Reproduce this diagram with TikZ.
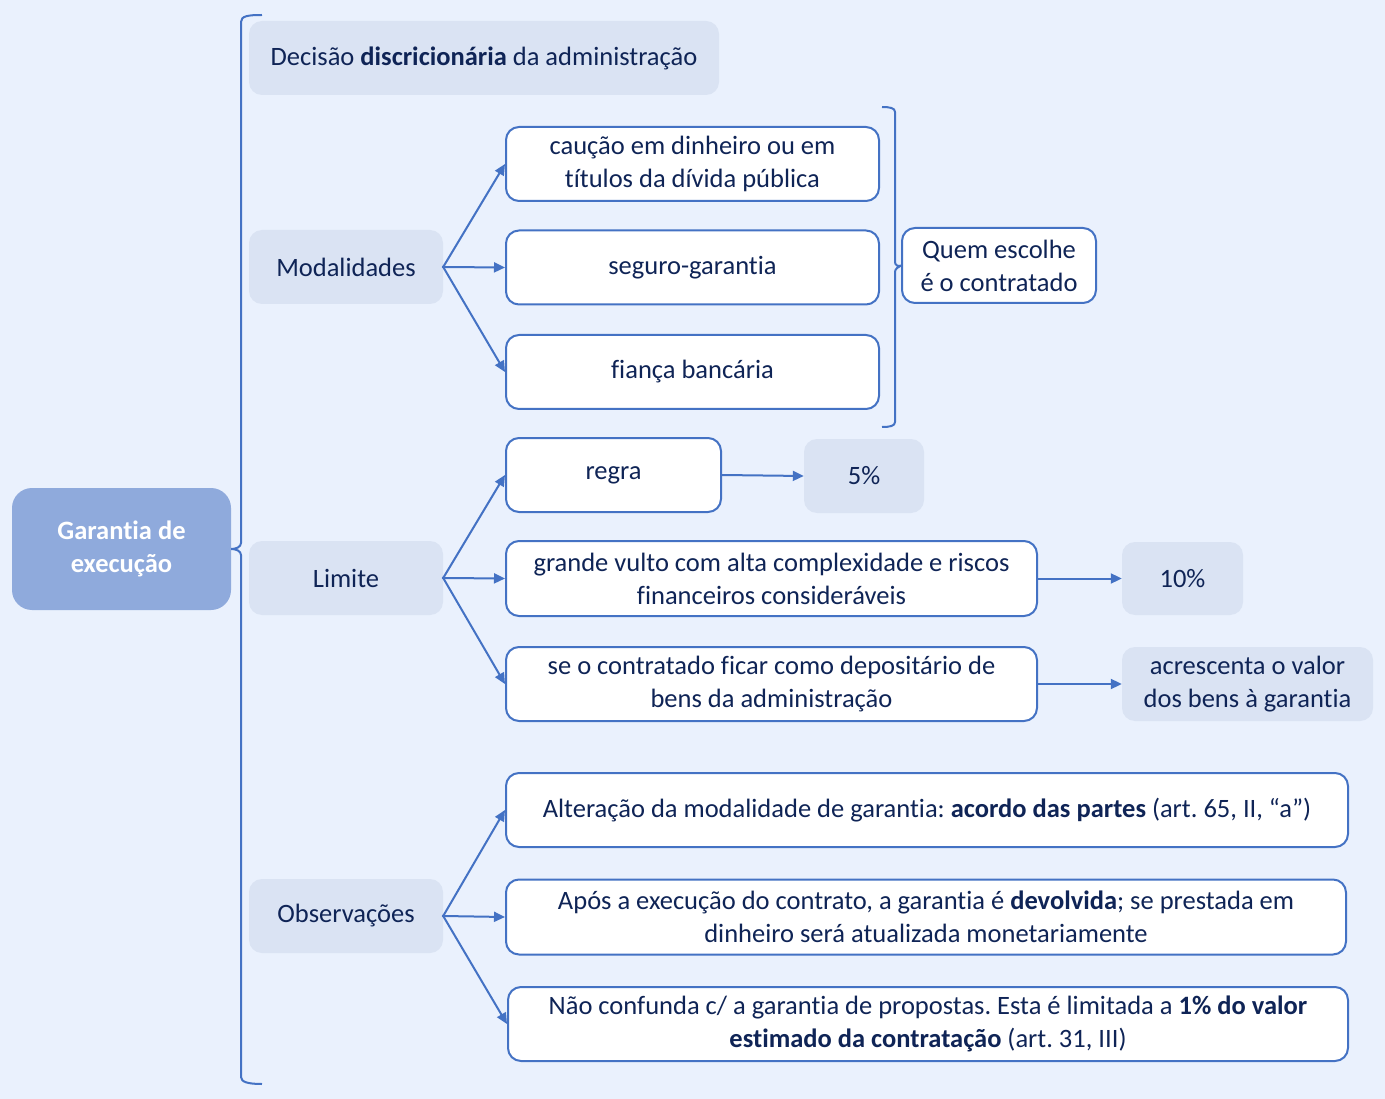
\documentclass[tikz,border=0pt]{standalone}
\usepackage{fontspec}
\setmainfont{Carlito}[Ligatures=NoCommon]
\usetikzlibrary{arrows.meta}
\definecolor{bgc}{HTML}{EAF1FD}
\definecolor{gfill}{HTML}{DAE3F3}
\definecolor{rootfill}{HTML}{8FAADC}
\definecolor{lblue}{HTML}{4472C4}
\definecolor{txt}{HTML}{0F2456}
\tikzset{
  base/.style={font=\fontsize{26.5}{33}\selectfont, text=txt, align=center, inner sep=0pt, rounded corners=13pt},
  gbox/.style={base, fill=gfill},
  wbox/.style={base, fill=white, draw=lblue, line width=2pt},
  rootbox/.style={base, fill=rootfill, text=white, font=\fontsize{26.5}{33}\selectfont\bfseries, rounded corners=20pt},
  conn/.style={draw=lblue, line width=2pt, shorten <=-1pt, -{Triangle[length=11pt,width=10pt]}},
  brace/.style={draw=lblue, line width=2pt}
}
\begin{document}
\frenchspacing
\begin{tikzpicture}[x=1pt,y=-1pt]
\useasboundingbox (0,0) rectangle (1385,1099);
\fill[bgc] (0,0) rectangle (1385,1099);

% root
\node[rootbox, minimum width=219pt, minimum height=122pt] (root) at (121.5,549) {Garantia de\\execução};

% level 1
\node[gbox, minimum width=470pt, minimum height=74pt] (dec) at (484,58) {Decisão \textbf{discricionária} da administração};
\node[gbox, minimum width=194pt, minimum height=74pt] (mod) at (346,267) {Modalidades};
\node[gbox, minimum width=194pt, minimum height=74pt] (lim) at (346,578) {Limite};
\node[gbox, minimum width=194pt, minimum height=74pt] (obs) at (346,916) {Observações};

% modalidades
\node[wbox, minimum width=373pt, minimum height=74pt] (cau) at (692.5,164) {caução em dinheiro ou em\\títulos da dívida pública};
\node[wbox, minimum width=373pt, minimum height=74pt] (seg) at (692.5,267.5) {seguro-garantia};
\node[wbox, minimum width=373pt, minimum height=74pt] (fia) at (692.5,372) {fiança bancária};
\node[wbox, minimum width=194pt, minimum height=75pt] (quem) at (999,265.5) {Quem escolhe\\é o contratado};

% limite
\node[wbox, minimum width=215pt, minimum height=74pt] (reg) at (613.5,475) {regra};
\node[gbox, minimum width=120pt, minimum height=74pt] (p5) at (864,476) {5\%};
\node[wbox, minimum width=531pt, minimum height=75pt] (gra) at (771.5,578.5) {grande vulto com alta complexidade e riscos\\financeiros consideráveis};
\node[gbox, minimum width=121pt, minimum height=73pt] (p10) at (1182.5,578.5) {10\%};
\node[wbox, minimum width=531pt, minimum height=74pt] (dep) at (771.5,684) {se o contratado ficar como depositário de\\bens da administração};
\node[gbox, minimum width=251pt, minimum height=74pt] (acr) at (1247.5,684) {acrescenta o valor\\dos bens à garantia};

% observacoes
\node[wbox, minimum width=842pt, minimum height=74pt] (alt) at (927,810) {Alteração da modalidade de garantia: \textbf{acordo das partes} (art. 65, II, “a”)};
\node[wbox, minimum width=840pt, minimum height=75pt] (apo) at (926,917) {Após a execução do contrato, a garantia é \textbf{devolvida}; se prestada em\\dinheiro será atualizada monetariamente};
\node[wbox, minimum width=840pt, minimum height=74pt] (nao) at (928,1024) {Não confunda c/ a garantia de propostas. Esta é limitada a \textbf{1\% do valor}\\\textbf{estimado da contratação} (art. 31, III)};

% connectors
\foreach \t in {cau,seg,fia} \draw[conn] (mod.east) -- (\t.west);
\foreach \t in {reg,gra,dep} \draw[conn] (lim.east) -- (\t.west);
\foreach \t in {alt,apo,nao} \draw[conn] (obs.east) -- (\t.west);
\draw[conn] (reg.east) -- (p5.west);
\draw[conn] (gra.east) -- (p10.west);
\draw[conn] (dep.east) -- (acr.west);

% left brace
\draw[brace] (262,15) .. controls (248,15) and (241,16) .. (241,22)
  -- (241,543) .. controls (241,547) and (236,549) .. (root.east)
  (root.east) .. controls (236,549) and (241,551) .. (241,555)
  -- (241,1077) .. controls (241,1082) and (248,1084) .. (262,1084);

% right bracket
\draw[brace] (882,107) .. controls (890,107) and (895,108) .. (895,112)
  -- (895,262) .. controls (895,265) and (898,267) .. (quem.west)
  (quem.west) .. controls (898,267) and (895,269) .. (895,272)
  -- (895,422) .. controls (895,426) and (890,427) .. (882,427);
\end{tikzpicture}
\end{document}
